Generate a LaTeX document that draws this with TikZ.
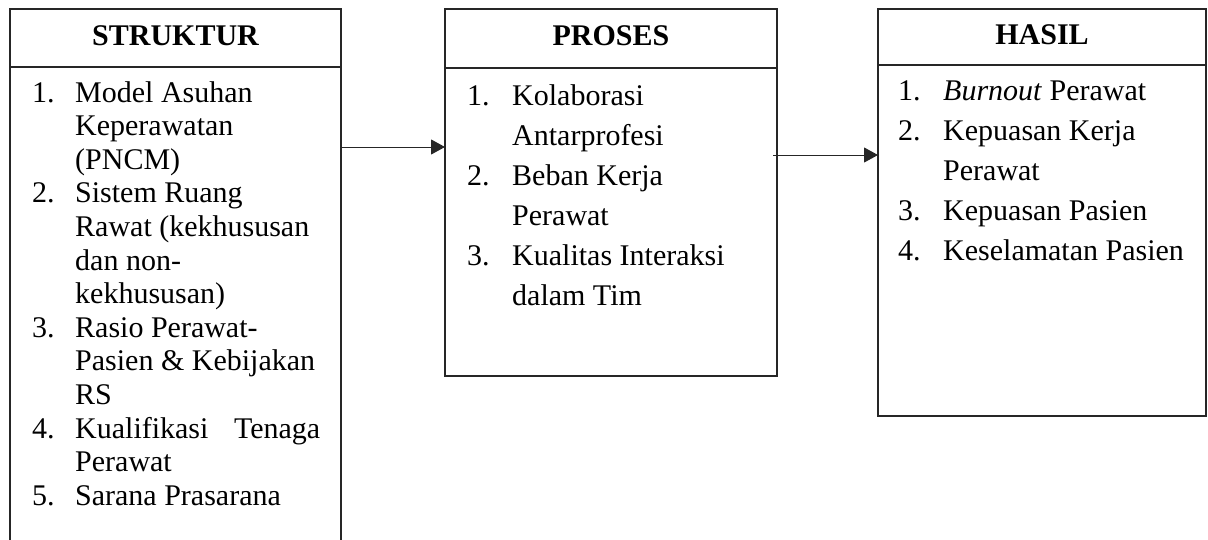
\documentclass[tikz,border=0pt]{standalone}
\usepackage{fontspec}
\setmainfont{Liberation Serif}
\usetikzlibrary{arrows.meta,positioning}

\tikzset{
  frame/.style={draw=black!85, line width=1.3pt, inner sep=0pt, outer sep=0pt},
  hdr/.style={font=\fontsize{30}{36}\selectfont\bfseries, text height=20pt, text depth=6pt},
  listtext/.style={anchor=base west, inner sep=0pt, align=left},
  link/.style={draw=black!85, line width=1pt, -{Triangle[length=14pt,width=15pt]}}
}
\newcommand{\itm}[2]{\makebox[#1][l]{#2}}

\begin{document}
\begin{tikzpicture}[x=1pt,y=-1pt]
\useasboundingbox (0,0) rectangle (1208,539);

% STRUKTUR column (body runs past the lower page edge)
\node[frame, hdr, minimum width=331pt, minimum height=58pt] (sh) at (175.5,38) {STRUKTUR};
\node[frame, minimum width=331pt, minimum height=493pt] (sb) at (175.5,313.5) {};
\node[listtext, font=\fontsize{30}{33.6}\selectfont] (sl) at (32,102) {%
\begin{tabular}[t]{@{}l@{}l@{}}
\itm{43pt}{1.} & Model Asuhan\\
 & Keperawatan\\
 & (PNCM)\\
\itm{43pt}{2.} & Sistem Ruang\\
 & Rawat (kekhususan\\
 & dan non-\\
 & kekhususan)\\
\itm{43pt}{3.} & Rasio Perawat-\\
 & Pasien \& Kebijakan\\
 & RS\\
\itm{43pt}{4.} & \makebox[245pt][l]{Kualifikasi\hfill Tenaga}\\
 & Perawat\\
\itm{43pt}{5.} & Sarana Prasarana
\end{tabular}};

% PROSES column
\node[frame, hdr, minimum width=332pt, minimum height=59pt] (ph) at (611,38.5) {PROSES};
\node[frame, minimum width=332pt, minimum height=308pt] (pb) at (611,222) {};
\node[listtext, font=\fontsize{30}{40}\selectfont] (pl) at (467,105) {%
\begin{tabular}[t]{@{}l@{}l@{}}
\itm{45pt}{1.} & Kolaborasi\\
 & Antarprofesi\\
\itm{45pt}{2.} & Beban Kerja\\
 & Perawat\\
\itm{45pt}{3.} & Kualitas Interaksi\\
 & dalam Tim
\end{tabular}};

% HASIL column
\node[frame, hdr, minimum width=328pt, minimum height=56pt] (hh) at (1042,37) {HASIL};
\node[frame, minimum width=328pt, minimum height=351pt] (hb) at (1042,240.5) {};
\node[listtext, font=\fontsize{30}{40}\selectfont] (hl) at (898,100) {%
\begin{tabular}[t]{@{}l@{}l@{}}
\itm{45pt}{1.} & \textit{Burnout} Perawat\\
\itm{45pt}{2.} & Kepuasan Kerja\\
 & Perawat\\
\itm{45pt}{3.} & Kepuasan Pasien\\
\itm{45pt}{4.} & Keselamatan Pasien
\end{tabular}};

% connectors between the columns
\coordinate (a1) at (342,147);
\coordinate (a2) at (773,155);
\draw[link] (a1) -- (a1 -| pb.west);
\draw[link] (a2) -- (a2 -| hb.west);
\end{tikzpicture}
\end{document}
